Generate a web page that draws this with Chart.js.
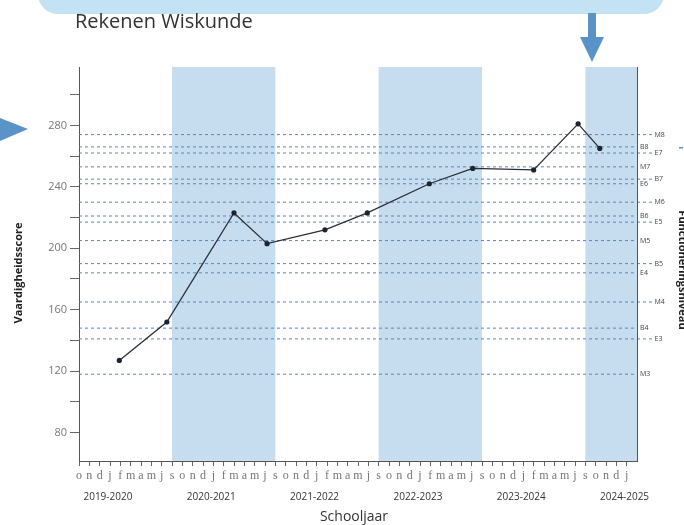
<!DOCTYPE html>
<html>
<head>
<meta charset="utf-8">
<script src="https://cdn.jsdelivr.net/npm/chart.js@4"></script>
<style>
  body { margin: 0; background: #fff; }
  canvas { display: block; }
</style>
</head>
<body>
<canvas id="chart" width="684" height="525"></canvas>
<script>
// --- Data ---
// school months only (no jul/aug), first year starts in october, last one stops in january
const schoolMonths = ['s', 'o', 'n', 'd', 'j', 'f', 'm', 'a', 'm', 'j'];
const monthLabels = [
  ...schoolMonths.slice(1),
  ...schoolMonths, ...schoolMonths, ...schoolMonths, ...schoolMonths,
  ...schoolMonths.slice(0, 5)
];
const yearLabels = ['2019-2020', '2020-2021', '2021-2022', '2022-2023', '2023-2024', '2024-2025'];
const shadedYears = ['2020-2021', '2022-2023', '2024-2025'];

// test moments (month index on the axis) and scores
const testMonth = [3.9, 8.5, 15.0, 18.2, 23.8, 27.9, 33.9, 38.1, 44.0, 48.3, 50.4];
const testScore = [127, 152, 223, 203, 212, 223, 242, 252, 251, 281, 265];

// reference levels (functioneringsniveau)
const levelNames  = ['M8', 'B8', 'E7', 'M7', 'B7', 'E6', 'M6', 'B6', 'E5', 'M5', 'B5', 'E4', 'M4', 'B4', 'E3', 'M3'];
const levelScores = [274, 266, 262, 253, 245, 242, 230, 221, 217, 205, 190, 184, 165, 148, 141, 118];

const yTicks = [80, 100, 120, 140, 160, 180, 200, 220, 240, 260, 280, 300];

// --- Helpers ---
const X_MAX = monthLabels.length;        // right edge of the plot
const X_LONG = X_MAX + 1.5;              // dashed lines that run past the plot
const yearStart = yearLabels.map((_, i) => i * 10 - 1);
const isLong = (i) => i % 2 === 0;

const levelSets = levelNames.map((name, i) => ({
  label: name,
  data: [{ x: 0, y: levelScores[i] }, { x: isLong(i) ? X_LONG : X_MAX, y: levelScores[i] }],
  borderColor: '#5b86b4',
  borderWidth: 1,
  borderDash: [3, 3],
  pointRadius: 0,
  clip: false,
  order: 2
}));

const BLUE = '#5a93c8';

const decor = {
  id: 'decor',
  beforeDraw(chart) {
    const { ctx, chartArea: a, scales: { x } } = chart;
    ctx.save();
    // banner + arrows
    ctx.fillStyle = '#c3e2f4';
    ctx.beginPath();
    ctx.roundRect(38, -30, 626, 44, 20);
    ctx.fill();
    ctx.fillStyle = BLUE;
    ctx.fillRect(588, 13, 8, 25);
    ctx.beginPath();
    ctx.moveTo(580, 37); ctx.lineTo(604, 37); ctx.lineTo(592, 62);
    ctx.fill();
    ctx.beginPath();
    ctx.moveTo(0, 118); ctx.lineTo(28, 129); ctx.lineTo(0, 141);
    ctx.fill();
    ctx.fillRect(679, 147, 4, 1.5);

    // shaded school years
    ctx.fillStyle = '#c6dcef';
    shadedYears.forEach(name => {
      const s = yearStart[yearLabels.indexOf(name)];
      const x0 = x.getPixelForValue(s);
      const x1 = x.getPixelForValue(Math.min(s + 10, X_MAX));
      ctx.fillRect(x0, a.top, x1 - x0, a.bottom - a.top);
    });
    ctx.restore();
  },
  afterDraw(chart) {
    const { ctx, chartArea: a, scales: { x, y } } = chart;
    ctx.save();

    // right border
    ctx.strokeStyle = '#555';
    ctx.lineWidth = 1;
    ctx.beginPath();
    ctx.moveTo(Math.round(a.right) + 0.5, a.top);
    ctx.lineTo(Math.round(a.right) + 0.5, a.bottom);
    ctx.stroke();

    // level labels
    ctx.fillStyle = '#444';
    ctx.font = '7px "Open Sans"';
    ctx.textBaseline = 'middle';
    levelNames.forEach((name, i) => {
      const px = isLong(i) ? x.getPixelForValue(X_LONG) + 2 : a.right + 3;
      ctx.fillText(name, px, y.getPixelForValue(levelScores[i]));
    });

    // year labels
    ctx.fillStyle = '#333';
    ctx.font = '10px "Open Sans"';
    ctx.textAlign = 'center';
    ctx.textBaseline = 'middle';
    yearLabels.forEach((name, i) => {
      ctx.fillText(name, x.getPixelForValue(yearStart[i] + 3.8), 497);
    });

    // titles
    ctx.fillStyle = '#333';
    ctx.font = '14px "Open Sans"';
    ctx.fillText('Schooljaar', 354, 517);

    ctx.textAlign = 'left';
    ctx.textBaseline = 'alphabetic';
    ctx.font = '20px "Open Sans"';
    ctx.fillText('Rekenen Wiskunde', 75, 28);

    ctx.fillStyle = '#222';
    ctx.font = 'bold 11px "Open Sans"';
    ctx.textAlign = 'center';
    ctx.save();
    ctx.translate(22, 273);
    ctx.rotate(-Math.PI / 2);
    ctx.fillText('Vaardigheidsscore', 0, 0);
    ctx.restore();

    // right axis title, partly cut off by the edge
    ctx.save();
    ctx.translate(679, 270);
    ctx.rotate(Math.PI / 2);
    ctx.fillText('Functioneringsniveau', 0, 0);
    ctx.restore();

    ctx.restore();
  }
};

new Chart(document.getElementById('chart'), {
  type: 'line',
  data: {
    datasets: [
      {
        label: 'Vaardigheidsscore',
        data: testMonth.map((m, i) => ({ x: m, y: testScore[i] })),
        borderColor: '#2b2f36',
        borderWidth: 1.3,
        pointRadius: 2.6,
        pointBackgroundColor: '#1c2430',
        pointBorderWidth: 0,
        tension: 0,
        order: 1
      },
      ...levelSets
    ]
  },
  options: {
    responsive: false,
    animation: false,
    layout: { padding: { top: 67, right: 47, left: 0, bottom: 0 } },
    plugins: { legend: { display: false }, tooltip: { enabled: false } },
    scales: {
      x: {
        type: 'linear',
        min: 0,
        max: X_MAX,
        afterBuildTicks: (s) => { s.ticks = monthLabels.map((_, i) => ({ value: i })); },
        afterFit: (s) => { s.height = 64; },
        ticks: {
          autoSkip: false,
          maxRotation: 0,
          padding: 3,
          color: '#777',
          font: { family: 'Liberation Serif', size: 12 },
          callback: (v) => monthLabels[v] ?? ''
        },
        grid: { drawOnChartArea: false, tickLength: 5, color: '#666' },
        border: { color: '#555' }
      },
      y: {
        min: 61.5,
        max: 318,
        afterBuildTicks: (s) => { s.ticks = yTicks.map(v => ({ value: v })); },
        afterFit: (s) => { s.width = 79; },
        ticks: {
          padding: 3,
          color: '#777',
          font: { family: 'Open Sans', size: 11 },
          callback: (v) => (v % 40 === 0 ? String(v) : '')
        },
        grid: { drawOnChartArea: false, tickLength: 9, color: '#666' },
        border: { color: '#555' }
      }
    }
  },
  plugins: [decor]
});
</script>
</body>
</html>
